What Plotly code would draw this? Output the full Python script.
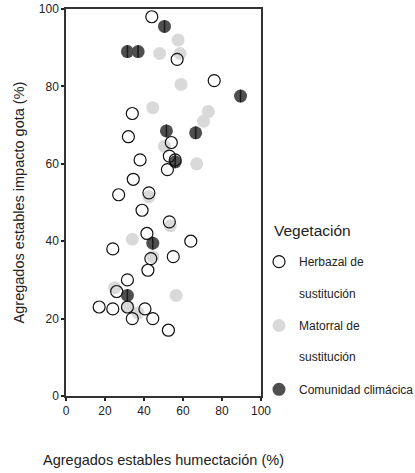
import plotly.graph_objects as go

# Herbazal de sustitución (open circles)
herb_x = [44, 57, 76, 34, 32, 54, 38, 53, 56, 52, 34.5, 27, 42.5, 39, 53, 41.5, 64, 24, 55, 43.5, 42, 31.5, 26, 17, 24, 31.5, 40.5, 34, 44.5, 52.5]
herb_y = [98, 87, 81.5, 73, 67, 65.5, 61, 62, 61, 58.5, 56, 52, 52.5, 48, 45, 42, 40, 38, 36, 35.5, 32.5, 30, 27, 23, 22.5, 23, 22.5, 20, 20, 17]

# Matorral de sustitución (light grey)
mat_x = [57.5, 48, 58.5, 59, 44.5, 73, 70.5, 50.5, 67, 42.5, 53.5, 34, 44.5, 25, 56.5, 32, 37]
mat_y = [92, 88.5, 88.5, 80.5, 74.5, 73.5, 71, 64.5, 60, 51.5, 44, 40.5, 36, 28, 26, 23, 21.5]

# Comunidad climácica (dark)
dark_x = [50.5, 31.5, 37, 89.5, 51.5, 66.5, 56, 44.5, 31.5]
dark_y = [95.5, 89, 89, 77.5, 68.5, 68, 60.5, 39.5, 26]

tick_vals = [0, 20, 40, 60, 80, 100]
tick_text = ["0", "20", "40", "60", "80", "100"]

FONT = "Liberation Sans, Arial, sans-serif"

fig = go.Figure()

fig.add_trace(go.Scatter(
    x=mat_x, y=mat_y, mode="markers", name="Matorral de<br><br>sustitución",
    legendgroup="b", legendrank=2,
    marker=dict(size=13, color="#d9d9d9", line=dict(width=0)),
    cliponaxis=False,
))
fig.add_trace(go.Scatter(
    x=dark_x, y=dark_y, mode="markers", name="Comunidad climácica",
    legendgroup="c", legendrank=3,
    marker=dict(size=13, color="#4f4f4f", line=dict(width=0)),
    cliponaxis=False,
))
fig.add_trace(go.Scatter(
    x=dark_x, y=dark_y, mode="markers", showlegend=False, hoverinfo="skip",
    marker=dict(size=9, symbol="line-ns", color="#1a1a1a", line=dict(width=1.5, color="#1a1a1a")),
    cliponaxis=False,
))
fig.add_trace(go.Scatter(
    x=herb_x, y=herb_y, mode="markers", name="Herbazal de<br><br>sustitución",
    legendgroup="a", legendrank=1,
    marker=dict(size=12, color="rgba(255,255,255,0)", line=dict(width=1.2, color="#111111")),
    cliponaxis=False,
))

axis_common = dict(
    range=[0, 100],
    tickvals=tick_vals,
    ticktext=tick_text,
    showline=True,
    mirror=True,
    linecolor="#333333",
    linewidth=1.5,
    ticks="outside",
    ticklen=3,
    tickwidth=2,
    tickcolor="#222222",
    showgrid=False,
    zeroline=False,
    automargin=False,
    tickfont=dict(family=FONT, size=12, color="#222222"),
    fixedrange=True,
)

plot_w = 415 - 66 - 154
plot_h = 473 - 9 - 77

fig.update_layout(
    width=415,
    height=473,
    margin=dict(l=66, r=154, t=9, b=77, autoexpand=False),
    paper_bgcolor="white",
    plot_bgcolor="white",
    font=dict(family=FONT, color="#222222"),
    xaxis=dict(
        **axis_common,
        title=dict(text="Agregados estables humectación (%)", font=dict(family=FONT, size=14.5, color="#222222"), standoff=38),
    ),
    yaxis=dict(
        **axis_common,
        title=dict(text="Agregados estables impacto gota (%)", font=dict(family=FONT, size=14.5, color="#222222"), standoff=11),
    ),
    legend=dict(
        x=(259 - 66) / plot_w, xanchor="left",
        y=0.384, yanchor="top",
        font=dict(family=FONT, size=12, color="#222222"),
        valign="top",
        tracegroupgap=14,
        bgcolor="rgba(0,0,0,0)",
    ),
    annotations=[dict(
        text="Vegetación",
        x=(272 - 66) / plot_w, y=(473 - 77 - 230) / plot_h,
        xref="paper", yref="paper",
        xanchor="left", yanchor="middle",
        showarrow=False,
        font=dict(family=FONT, size=15.5, color="#222222"),
    )],
    showlegend=True,
)

fig.write_html("out.html")
